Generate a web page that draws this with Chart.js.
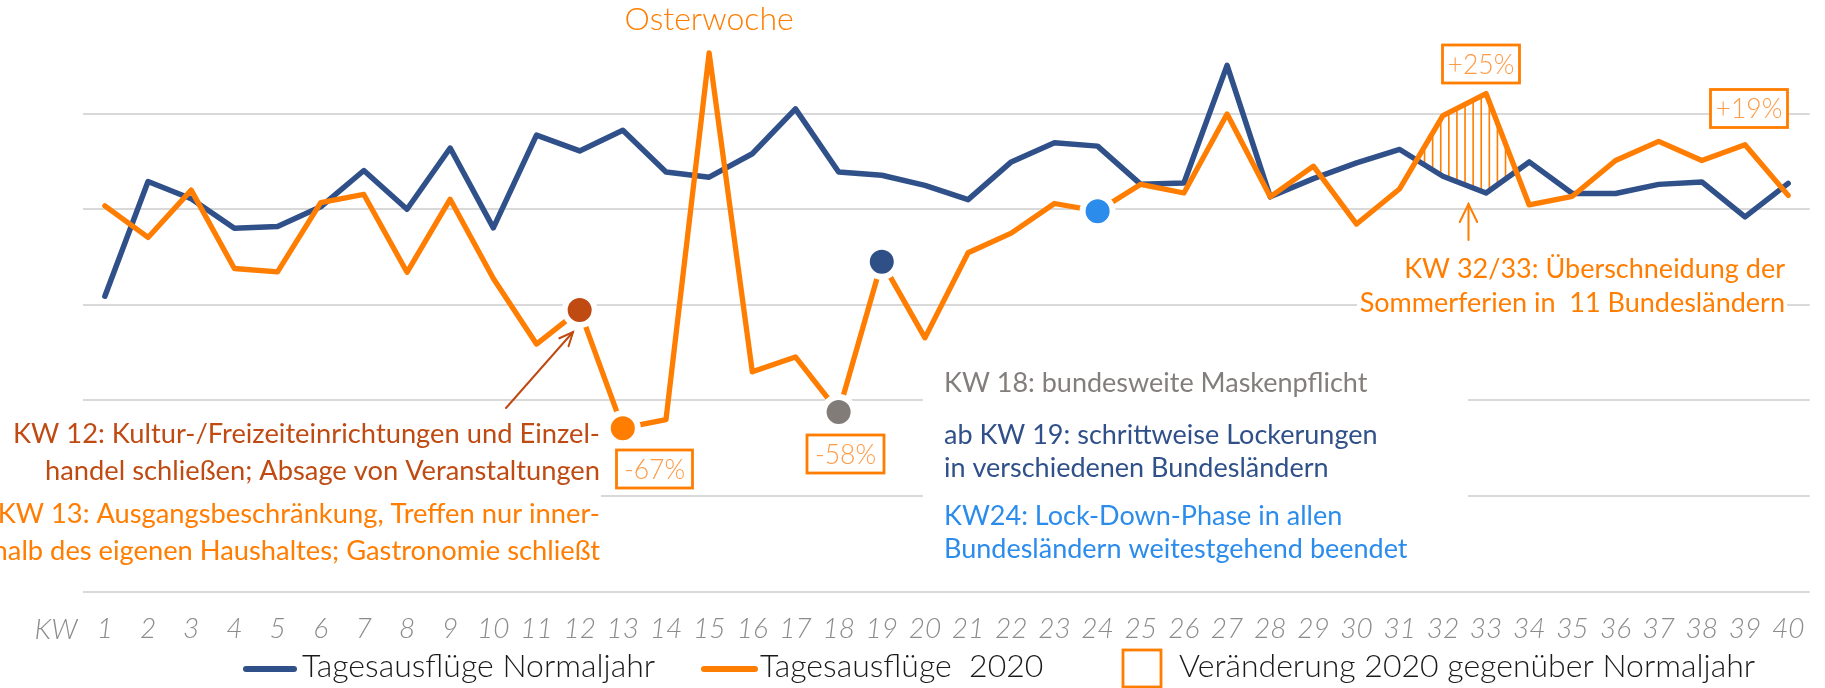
<!DOCTYPE html>
<html><head><meta charset="utf-8">
<script src="https://cdn.jsdelivr.net/npm/chart.js@4.4.1/dist/chart.umd.min.js"></script>
<style>html,body{margin:0;padding:0;background:#fff;overflow:hidden}#wrap{width:1825px;height:688px;position:relative}canvas{display:block}</style>
</head><body><div id="wrap"><canvas id="c" width="1825" height="688" style="width:1825px;height:688px"></canvas></div>
<script>
// ---- data ----
const weeks = ['1','2','3','4','5','6','7','8','9','10','11','12','13','14','15','16','17','18','19','20',
               '21','22','23','24','25','26','27','28','29','30','31','32','33','34','35','36','37','38','39','40'];
const normaljahr = [61.8,85.8,82.2,76.0,76.4,80.5,88.1,80.0,92.8,76.1,95.5,92.2,96.5,87.8,86.7,91.6,101.0,87.8,87.1,85.0,
                    82.0,89.9,93.9,93.2,85.2,85.5,110.1,82.6,86.4,89.7,92.5,86.9,83.4,89.9,83.3,83.3,85.2,85.7,78.4,85.4];
const jahr2020   = [80.7,74.1,84.0,67.6,66.9,81.4,83.1,66.8,82.1,65.5,51.8,58.9,34.2,36.0,112.7,46.0,49.1,37.6,69.0,53.1,
                    70.9,75.0,81.2,79.6,85.2,83.4,99.9,82.6,89.0,76.9,84.3,99.6,104.2,80.9,82.7,90.2,94.2,90.2,93.5,82.9];
const yTickValues = [0,20,40,60,80,100,120];
const markerWeeks = ['12','13','18','19','24'];
const markerColors = ['#BF4A12','#FF7D00','#827C79','#2F5086','#2B8CEC'];
const legendLabels = ['Tagesausflüge Normaljahr','Tagesausflüge  2020','Veränderung 2020 gegenüber Normaljahr'];
const changeLabels = ['+25%','+19%','-67%','-58%'];
const hatchWeeks = ['31','34'];

const BLUE = '#30508A', ORANGE = '#FF7D00', DARKOR = '#BF4A12', GRAYT = '#837E7C', LBLUE = '#2B8CEC', PCT = '#FF9A45';
const F = 'Lato, "Open Sans", sans-serif';

function arrow(ctx, x1, y1, x2, y2, color, w, head, spread) {
  ctx.save();
  ctx.strokeStyle = color; ctx.lineWidth = w; ctx.lineCap = 'round';
  ctx.beginPath(); ctx.moveTo(x1, y1); ctx.lineTo(x2, y2); ctx.stroke();
  const a = Math.atan2(y2 - y1, x2 - x1);
  ctx.beginPath();
  ctx.moveTo(x2 - head * Math.cos(a - spread), y2 - head * Math.sin(a - spread));
  ctx.lineTo(x2, y2);
  ctx.lineTo(x2 - head * Math.cos(a + spread), y2 - head * Math.sin(a + spread));
  ctx.stroke();
  ctx.restore();
}
function textLines(ctx, lines, x, ys, align, color, font) {
  ctx.save();
  ctx.fillStyle = color; ctx.font = font; ctx.textAlign = align; ctx.textBaseline = 'middle';
  lines.forEach((t, i) => ctx.fillText(t, x, ys[i]));
  ctx.restore();
}
function pctBox(ctx, cx, cy, w, h, text) {
  ctx.save();
  ctx.fillStyle = '#fff';
  ctx.fillRect(cx - w / 2, cy - h / 2, w, h);
  ctx.strokeStyle = ORANGE; ctx.lineWidth = 2.8;
  ctx.strokeRect(cx - w / 2, cy - h / 2, w, h);
  ctx.fillStyle = PCT; ctx.font = '300 26.5px ' + F; ctx.textAlign = 'center'; ctx.textBaseline = 'middle';
  ctx.fillText(text, cx, cy + 1);
  ctx.restore();
}

const deco = {
  id: 'deco',
  beforeDatasetsDraw(chart) {
    const ctx = chart.ctx, xs = chart.scales.x, ys = chart.scales.y, ca = chart.chartArea;
    ctx.save();
    // white text backgrounds interrupting the gridlines
    ctx.fillStyle = '#fff';
    ctx.fillRect(0, 410, 601, 160);
    ctx.fillRect(923, 362, 545, 210);
    ctx.fillRect(1357, 289, 430, 30);
    // hatch between the two series (orange above blue) for KW 31..34
    const i0 = weeks.indexOf(hatchWeeks[0]), i1 = weeks.indexOf(hatchWeeks[1]);
    ctx.beginPath();
    ctx.moveTo(xs.getPixelForValue(i0), ys.getPixelForValue(jahr2020[i0]));
    for (let i = i0 + 1; i <= i1; i++) ctx.lineTo(xs.getPixelForValue(i), ys.getPixelForValue(jahr2020[i]));
    ctx.lineTo(xs.getPixelForValue(i1), ca.bottom); ctx.lineTo(xs.getPixelForValue(i0), ca.bottom);
    ctx.closePath(); ctx.clip();
    ctx.beginPath();
    ctx.moveTo(xs.getPixelForValue(i0), ys.getPixelForValue(normaljahr[i0]));
    for (let i = i0 + 1; i <= i1; i++) ctx.lineTo(xs.getPixelForValue(i), ys.getPixelForValue(normaljahr[i]));
    ctx.lineTo(xs.getPixelForValue(i1), ca.top); ctx.lineTo(xs.getPixelForValue(i0), ca.top);
    ctx.closePath(); ctx.clip();
    ctx.strokeStyle = ORANGE; ctx.lineWidth = 1.6;
    const xa = xs.getPixelForValue(i0), xb = xs.getPixelForValue(i1);
    for (let x = xa + 0.5; x < xb; x += 8.1) {
      ctx.beginPath(); ctx.moveTo(x, ca.top); ctx.lineTo(x, ca.bottom); ctx.stroke();
    }
    ctx.restore();
  },
  afterDraw(chart) {
    const ctx = chart.ctx, xs = chart.scales.x;
    // "KW" axis caption
    textLines(ctx, ['KW'], 56, [630], 'center', '#8C8C8C', 'italic 300 28px ' + F);
    // Osterwoche
    textLines(ctx, ['Osterwoche'], xs.getPixelForValue(weeks.indexOf('15')), [20], 'center', ORANGE, '300 32px ' + F);
    // percentage boxes
    pctBox(ctx, 1481, 64, 77, 38, changeLabels[0]);
    pctBox(ctx, 1749, 108.5, 77, 38, changeLabels[1]);
    pctBox(ctx, 654.5, 469, 76, 38, changeLabels[2]);
    pctBox(ctx, 845.5, 454, 77, 38, changeLabels[3]);
    // arrows
    arrow(ctx, 506, 408, 573, 332, DARKOR, 2, 15, 0.42);
    arrow(ctx, 1468.5, 240, 1468.5, 204, ORANGE, 2, 20, 0.45);
    // annotation texts
    textLines(ctx, ['KW 12: Kultur-/Freizeiteinrichtungen und Einzel-', 'handel schließen; Absage von Veranstaltungen'],
      600, [434, 471], 'right', DARKOR, '400 27.3px ' + F);
    textLines(ctx, ['KW 13: Ausgangsbeschränkung, Treffen nur inner-', 'halb des eigenen Haushaltes; Gastronomie schließt'],
      600, [514, 551], 'right', ORANGE, '400 27.3px ' + F);
    textLines(ctx, ['KW 18: bundesweite Maskenpflicht'], 944, [383], 'left', GRAYT, '400 27px ' + F);
    textLines(ctx, ['ab KW 19: schrittweise Lockerungen', 'in verschiedenen Bundesländern'], 944, [435, 468], 'left', BLUE, '400 27px ' + F);
    textLines(ctx, ['KW24: Lock-Down-Phase in allen', 'Bundesländern weitestgehend beendet'], 944, [516, 549], 'left', LBLUE, '400 27px ' + F);
    textLines(ctx, ['KW 32/33: Überschneidung der', 'Sommerferien in  11 Bundesländern'], 1785, [269, 303], 'right', ORANGE, '400 27px ' + F);
    // legend
    ctx.save();
    ctx.lineCap = 'round'; ctx.lineWidth = 6;
    ctx.strokeStyle = BLUE; ctx.beginPath(); ctx.moveTo(246, 669); ctx.lineTo(294, 669); ctx.stroke();
    ctx.strokeStyle = ORANGE; ctx.beginPath(); ctx.moveTo(704, 669); ctx.lineTo(755, 669); ctx.stroke();
    ctx.lineWidth = 2.8; ctx.strokeRect(1123, 650, 38, 37);
    ctx.restore();
    textLines(ctx, [legendLabels[0]], 302, [667], 'left', '#1A1A1A', '300 32px ' + F);
    textLines(ctx, [legendLabels[1]], 760, [667], 'left', '#1A1A1A', '300 32px ' + F);
    textLines(ctx, [legendLabels[2]], 1179, [667], 'left', '#1A1A1A', '300 32px ' + F);
  }
};

function build() {
  const radii = weeks.map(w => markerWeeks.includes(w) ? 15 : 0);
  const fills = weeks.map(w => markerWeeks.includes(w) ? markerColors[markerWeeks.indexOf(w)] : ORANGE);
  new Chart(document.getElementById('c'), {
    type: 'line',
    data: {
      labels: weeks,
      datasets: [
        { label: legendLabels[0], data: normaljahr, borderColor: BLUE, borderWidth: 5.5, pointRadius: 0, pointHoverRadius: 0,
          tension: 0, fill: false, order: 1, borderJoinStyle: 'round', borderCapStyle: 'round' },
        { label: legendLabels[1], data: jahr2020, borderColor: ORANGE, borderWidth: 5.3, pointRadius: radii, pointHoverRadius: radii,
          pointBackgroundColor: fills, pointBorderColor: '#fff', pointBorderWidth: 6, tension: 0, fill: false, order: 0,
          borderJoinStyle: 'round', borderCapStyle: 'round' }
      ]
    },
    options: {
      responsive: false, animation: false, devicePixelRatio: 1,
      layout: { padding: { left: 83.3, right: 6.3, top: 18, bottom: 0 } },
      plugins: { legend: { display: false }, tooltip: { enabled: false } },
      events: [],
      scales: {
        x: { type: 'category', offset: true, grid: { display: false, drawTicks: false }, border: { display: false },
             afterFit: s => { s.height = 96.3; },
             ticks: { color: '#8C8C8C', font: { family: F, size: 28, style: 'italic', weight: '300' }, padding: 20.5,
                      autoSkip: false, maxRotation: 0, minRotation: 0 } },
        y: { min: yTickValues[0], max: yTickValues[yTickValues.length - 1],
             afterBuildTicks: s => { s.ticks = yTickValues.map(v => ({ value: v })); },
             afterFit: s => { s.width = 0; },
             ticks: { display: false },
             grid: { color: c => c.tick && c.tick.value === 120 ? 'rgba(0,0,0,0)' : '#D9D9D9', lineWidth: 2, drawTicks: false },
             border: { display: false } }
      }
    },
    plugins: [deco]
  });
}
const fl = ['300 28px Lato', 'italic 300 28px Lato', '400 27px Lato'];
Promise.all(fl.map(f => document.fonts.load(f).catch(() => null))).then(build, build);
</script></body></html>
